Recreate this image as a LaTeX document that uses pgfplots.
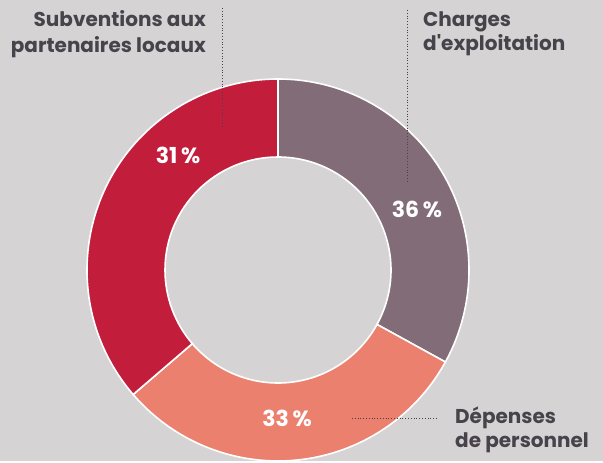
\documentclass[border=0pt]{standalone}
\usepackage{pgfplots}
\pgfplotsset{compat=1.18}
\usepackage{fontspec}
\setmainfont{Poppins}[Ligatures=TeXOff]

\definecolor{bg}{HTML}{D6D3D4}
\definecolor{mauve}{HTML}{826C78}
\definecolor{salmon}{HTML}{EC806E}
\definecolor{crimson}{HTML}{C21E3C}
\definecolor{txt}{HTML}{48434A}

% one ring slice: start angle, share in percent, colour
\newcommand\slice[3]{%
  \pgfmathsetmacro\sa{#1}%
  \pgfmathsetmacro\ea{#1-3.6*#2}%
  \edef\tmp{\noexpand\fill[#3,draw=white,line width=1.6pt]
    ([shift={(\sa:191pt)}]axis cs:278,191) arc[start angle=\sa,end angle=\ea,radius=191pt]
    -- ([shift={(\ea:113pt)}]axis cs:278,191) arc[start angle=\ea,end angle=\sa,radius=113pt]
    -- cycle;}%
  \tmp}

\begin{document}
\begin{tikzpicture}
\begin{axis}[
    width=603pt, height=461pt, scale only axis,
    xmin=0, xmax=603, ymin=0, ymax=461,
    hide axis, clip=false,
]
\fill[bg] (axis cs:0,0) rectangle (axis cs:603,461);

% shares as drawn (degrees/3.6), clockwise from the top
\slice{90}{33.0}{mauve}
\slice{-28.8}{30.7}{salmon}
\slice{-139.32}{36.3}{crimson}

% leader lines
\draw[txt, dotted, line width=0.8pt] (axis cs:222,453) -- (axis cs:222,333);
\draw[txt, dotted, line width=0.8pt] (axis cs:407,451) -- (axis cs:407,280);
\draw[txt, dotted, line width=0.8pt] (axis cs:352,43) -- (axis cs:438,43);

\begin{scope}[every node/.style={font=\fontsize{20}{24}\selectfont\bfseries, inner sep=0pt}]
\node[txt, anchor=base east] at (axis cs:206,434) {Subventions aux};
\node[txt, anchor=base east] at (axis cs:206,409) {partenaires locaux};
\node[txt, anchor=base west] at (axis cs:423,434) {Charges};
\node[txt, anchor=base west] at (axis cs:423,410) {d'exploitation};
\node[txt, anchor=base west] at (axis cs:455,38) {Dépenses};
\node[txt, anchor=base west] at (axis cs:455,14) {de personnel};
\end{scope}

\begin{scope}[every node/.style={font=\fontsize{22}{26}\selectfont\bfseries, inner sep=0pt, white, anchor=base}]
\node at (axis cs:178,298) {31\,\%};
\node at (axis cs:417,244) {36\,\%};
\node at (axis cs:287,35) {33\,\%};
\end{scope}
\end{axis}
\end{tikzpicture}
\end{document}
